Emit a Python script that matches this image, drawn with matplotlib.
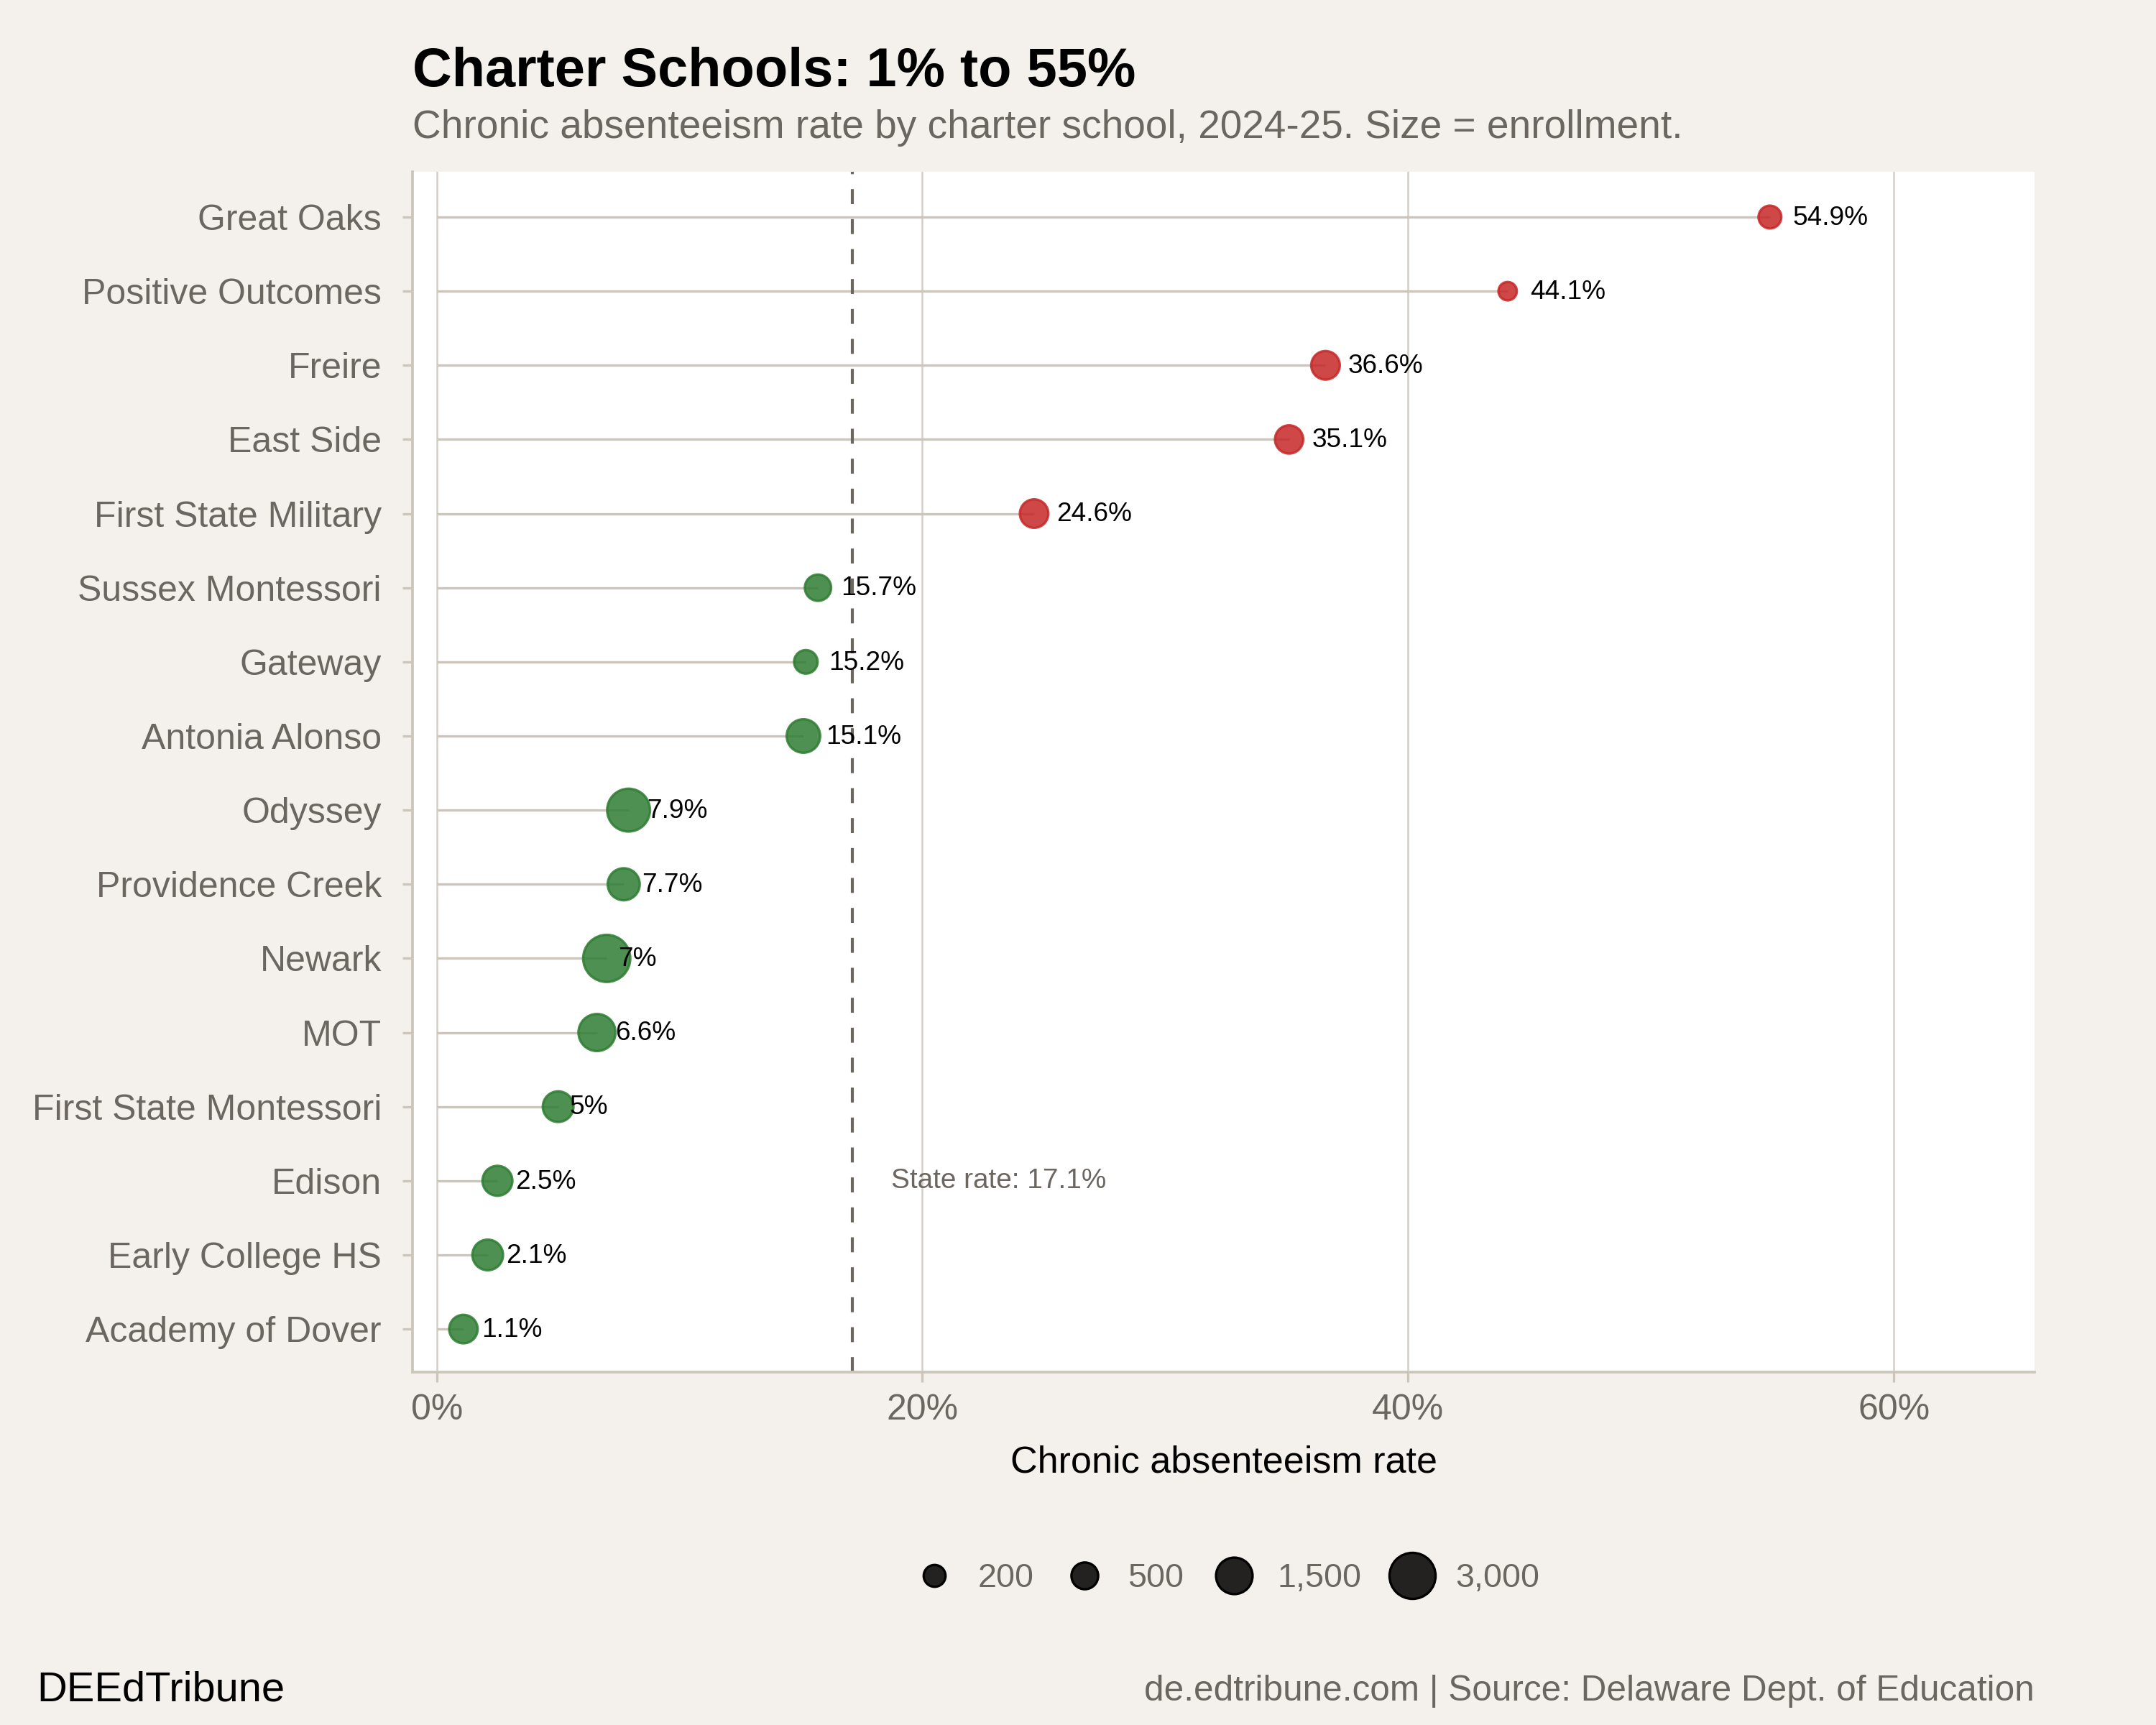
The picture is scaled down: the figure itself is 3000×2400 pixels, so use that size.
import numpy as np
import matplotlib.pyplot as plt
import matplotlib.transforms as mtransforms
from matplotlib.lines import Line2D

plt.rcParams['font.family'] = ['Liberation Sans', 'DejaVu Sans']

# data, top to bottom
schools = ['Great Oaks', 'Positive Outcomes', 'Freire', 'East Side', 'First State Military',
           'Sussex Montessori', 'Gateway', 'Antonia Alonso', 'Odyssey', 'Providence Creek',
           'Newark', 'MOT', 'First State Montessori', 'Edison', 'Early College HS',
           'Academy of Dover']
rates = [54.9, 44.1, 36.6, 35.1, 24.6, 15.7, 15.2, 15.1, 7.9, 7.7, 7.0, 6.6, 5.0, 2.5, 2.1, 1.1]
enrollment = [250, 70, 650, 620, 640, 470, 290, 1140, 2440, 980, 3200, 1580, 840, 770, 840, 640]
state_rate = 17.1
legend_sizes = [200, 500, 1500, 3000]
legend_labels = ['200', '500', '1,500', '3,000']

BG = '#F4F1EC'
GREY = '#6B6660'
LINE = '#CBC5BC'
RED = '#C62828'
GREEN = '#2E7D32'
DPI = 300
EDGE_LW = 0.8


def marker_s(v):
    # diameter grows with sqrt(enrollment), like an area scale
    d_px = 22 + 0.83 * np.sqrt(v)
    d_pt = d_px * 72 / DPI
    return (d_pt - EDGE_LW) ** 2


fig = plt.figure(figsize=(10, 8), dpi=DPI, facecolor=BG)
ax = fig.add_axes([0.1913, 0.2046, 0.7524, 0.6958])
ax.set_facecolor('white')

n = len(schools)
ypos = np.arange(n)[::-1]
colors = [RED if r > state_rate else GREEN for r in rates]

ax.hlines(ypos, 0, rates, color=LINE, lw=0.8, zorder=2)
ax.axvline(state_rate, color=GREY, lw=1.0, ls=(0, (5, 5)), zorder=2.5)
ax.scatter(rates, ypos, s=[marker_s(e) for e in enrollment], c=colors, alpha=0.85,
           edgecolors=colors, linewidths=EDGE_LW, zorder=3)

renderer = fig.canvas.get_renderer()
for r, y in zip(rates, ypos):
    t = ax.text(r, y, f'{r:g}%', fontsize=8.9, va='center', ha='left', color='black', zorder=4)
    w = t.get_window_extent(renderer).width
    t.set_transform(ax.transData + mtransforms.ScaledTranslation(0.3 * w / DPI, -0.004, fig.dpi_scale_trans))

ax.text(18.7, ypos[schools.index('Edison')], f'State rate: {state_rate}%', fontsize=9.3,
        color=GREY, va='center', ha='left')

ax.set_xlim(-1.0, 65.8)
ax.set_ylim(-0.58, n - 1 + 0.61)
ax.set_xticks([0, 20, 40, 60])
ax.set_xticklabels(['0%', '20%', '40%', '60%'])
ax.set_yticks(ypos)
ax.set_yticklabels(schools)
ax.grid(axis='x', color='#D3CEC6', lw=0.6, zorder=0)
ax.set_axisbelow(True)
for side in ['top', 'right']:
    ax.spines[side].set_visible(False)
for side in ['left', 'bottom']:
    ax.spines[side].set_color(LINE)
    ax.spines[side].set_linewidth(0.9)
ax.tick_params(axis='both', colors=LINE, length=3.3, width=0.8, labelsize=12, labelcolor=GREY)
ax.tick_params(axis='y', pad=7)
ax.tick_params(axis='x', pad=4)
ax.set_xlabel('Chronic absenteeism rate', fontsize=12.5, color='black', labelpad=6)

fig.text(0.1913, 0.950, 'Charter Schools: 1% to 55%', fontsize=18.2, fontweight='bold',
         color='black', ha='left', va='baseline')
fig.text(0.1913, 0.920, 'Chronic absenteeism rate by charter school, 2024-25. Size = enrollment.',
         fontsize=13.2, color=GREY, ha='left', va='baseline')

handles = [Line2D([], [], ls='none', marker='o', markersize=np.sqrt(marker_s(v)),
                  markerfacecolor='#242220', markeredgecolor='black', markeredgewidth=EDGE_LW)
           for v in legend_sizes]
fig.legend(handles, legend_labels, loc='center', bbox_to_anchor=(0.566, 0.085), ncol=4,
           frameon=False, fontsize=11.2, labelcolor=GREY, handlelength=2, handletextpad=0.3,
           columnspacing=0.5)

fig.text(0.017, 0.014, 'DEEdTribune', fontsize=13.9, color='black', ha='left', va='baseline')
fig.text(0.9437, 0.014, 'de.edtribune.com | Source: Delaware Dept. of Education', fontsize=11.9,
         color=GREY, ha='right', va='baseline')

fig.savefig('out.png', dpi=DPI, facecolor=BG)
